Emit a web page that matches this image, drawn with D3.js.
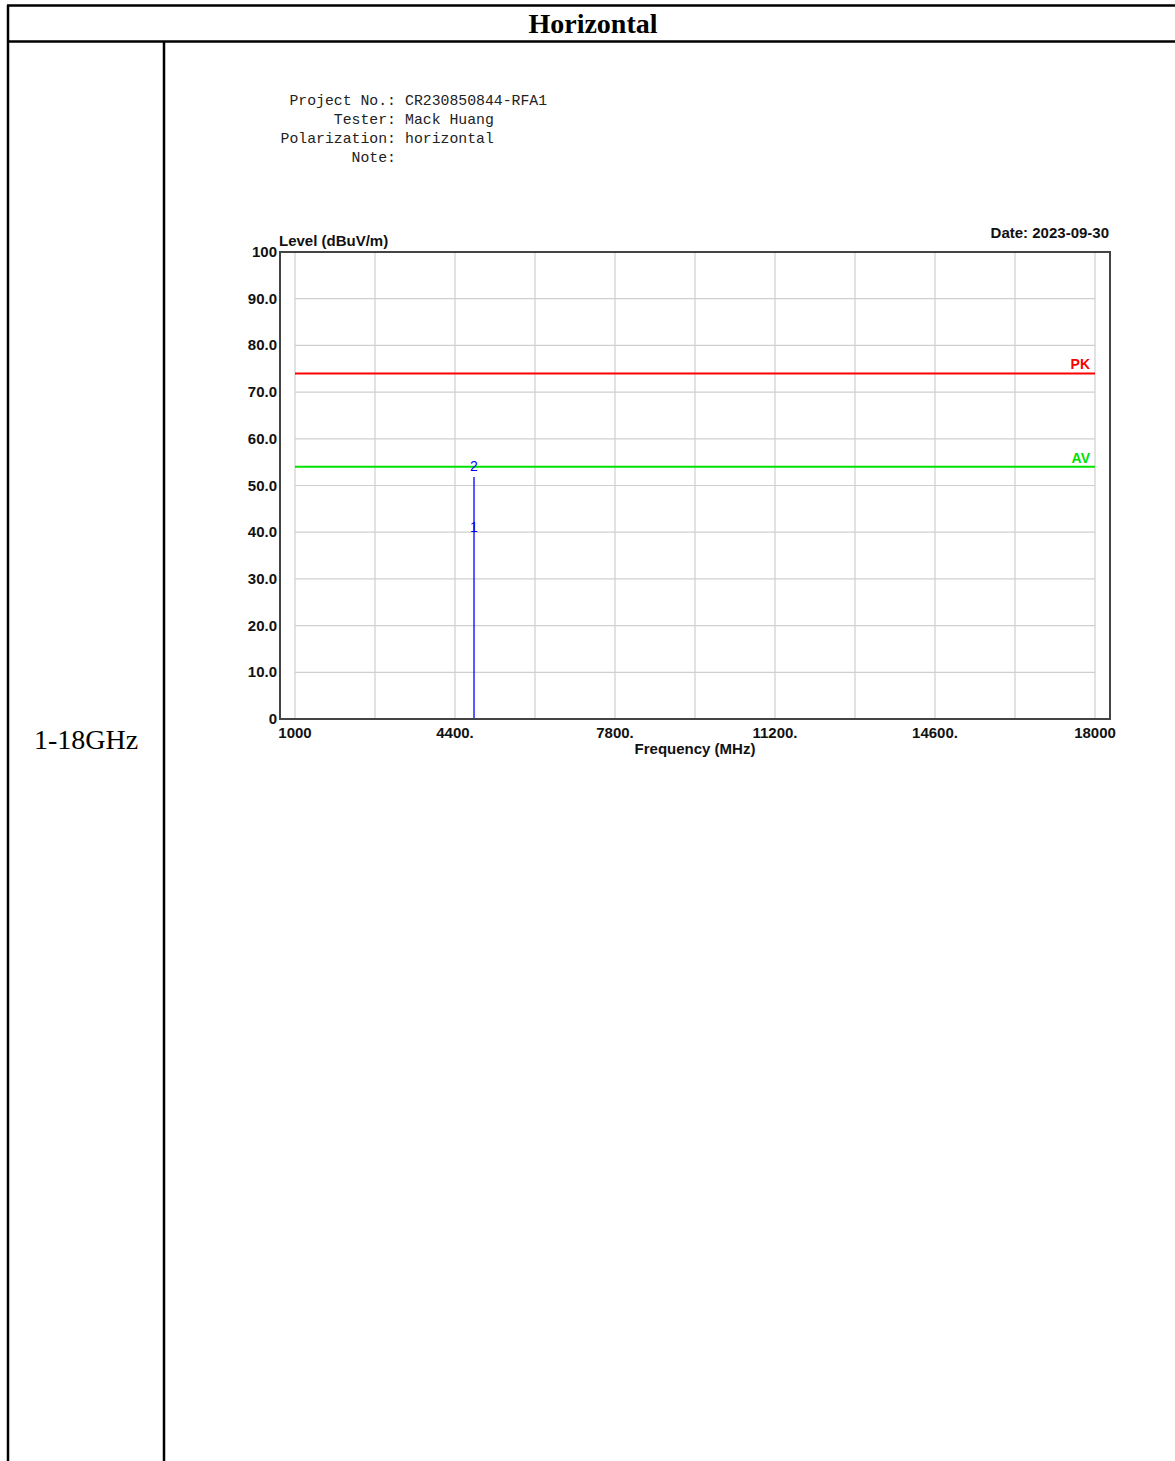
<!DOCTYPE html>
<html>
<head>
<meta charset="utf-8">
<script src="https://cdn.jsdelivr.net/npm/d3@7"></script>
<style>
  body { margin: 0; background: #fff; }
  svg { display: block; }
</style>
</head>
<body>
<div id="chart"></div>
<script>
// chart values
var infoLabels = ['Project No.:', 'Tester:', 'Polarization:', 'Note:'];
var infoValues = ['CR230850844-RFA1', 'Mack Huang', 'horizontal', ''];
var yTicks = [0, 10, 20, 30, 40, 50, 60, 70, 80, 90, 100];
var yTickLabels = ['0', '10.0', '20.0', '30.0', '40.0', '50.0', '60.0', '70.0', '80.0', '90.0', '100'];
var xGrid = [1000, 2700, 4400, 6100, 7800, 9500, 11200, 12900, 14600, 16300, 18000];
var xTicks = [1000, 4400, 7800, 11200, 14600, 18000];
var xTickLabels = ['1000', '4400.', '7800.', '11200.', '14600.', '18000'];
var limitNames = ['PK', 'AV'];
var limitValues = [74, 54];
var limitColors = ['#ff0000', '#00e000'];
var traceFreq = [4804, 4804];
var traceLevel = [0, 51.8];
var markerNames = ['1', '2'];
var markerFreq = [4804, 4804];
var markerLevel = [41.1, 51.8];

window.onload = function() {
    drawChart();
}

function drawChart() {
    var width = 1175, height = 1461;
    var svg = d3.select('#chart').append('svg')
        .attr('width', width)
        .attr('height', height);

    // report table lines
    var tbl = svg.append('g').attr('stroke', '#000').attr('stroke-width', 2.5);
    tbl.append('line').attr('x1', 7).attr('x2', width).attr('y1', 5.5).attr('y2', 5.5);
    tbl.append('line').attr('x1', 7).attr('x2', width).attr('y1', 41.5).attr('y2', 41.5);
    tbl.append('line').attr('x1', 8).attr('x2', 8).attr('y1', 5).attr('y2', height);
    tbl.append('line').attr('x1', 164).attr('x2', 164).attr('y1', 41).attr('y2', height);

    svg.append('text')
        .attr('x', 593).attr('y', 33)
        .attr('text-anchor', 'middle')
        .style('font-family', '"Liberation Serif", "Times New Roman", serif')
        .style('font-weight', 'bold')
        .style('font-size', '28px')
        .text('Horizontal');

    svg.append('text')
        .attr('x', 86).attr('y', 749)
        .attr('text-anchor', 'middle')
        .style('font-family', '"Liberation Serif", "Times New Roman", serif')
        .style('font-size', '28px')
        .text('1-18GHz');

    // info block
    var info = svg.append('g')
        .style('font-family', '"Liberation Mono", "DejaVu Sans Mono", monospace')
        .style('font-size', '14.8px')
        .attr('fill', '#222');
    infoLabels.forEach(function(d, i) {
        info.append('text').attr('x', 396).attr('y', 105 + i * 19)
            .attr('text-anchor', 'end').text(d);
        info.append('text').attr('x', 405).attr('y', 105 + i * 19)
            .text(infoValues[i]);
    });

    // plot
    var x = d3.scaleLinear().domain([1000, 18000]).range([295, 1095]);
    var y = d3.scaleLinear().domain([0, 100]).range([719, 252]);
    var left = 280, right = 1110, top = 252, bottom = 719;
    var font = '"Liberation Sans", Arial, sans-serif';

    var plot = svg.append('g');

    plot.selectAll('.vgrid').data(xGrid).enter().append('line')
        .attr('class', 'vgrid')
        .attr('x1', function(d) { return x(d); })
        .attr('x2', function(d) { return x(d); })
        .attr('y1', top).attr('y2', bottom)
        .attr('stroke', '#cfcfcf').attr('stroke-width', 1.2);

    plot.selectAll('.hgrid').data(yTicks.slice(1, -1)).enter().append('line')
        .attr('class', 'hgrid')
        .attr('x1', x(1000)).attr('x2', x(18000))
        .attr('y1', function(d) { return y(d); })
        .attr('y2', function(d) { return y(d); })
        .attr('stroke', '#cfcfcf').attr('stroke-width', 1.2);

    // limit lines
    limitValues.forEach(function(v, i) {
        plot.append('line')
            .attr('x1', x(1000)).attr('x2', x(18000))
            .attr('y1', y(v)).attr('y2', y(v))
            .attr('stroke', limitColors[i]).attr('stroke-width', 2);
        plot.append('text')
            .attr('x', x(18000) - 5).attr('y', y(v) - 4)
            .attr('text-anchor', 'end')
            .attr('fill', limitColors[i])
            .style('font-family', font)
            .style('font-weight', 'bold')
            .style('font-size', '14px')
            .text(limitNames[i]);
    });

    // trace
    var line = d3.line()
        .x(function(d) { return x(d[0]); })
        .y(function(d) { return y(d[1]); });
    plot.append('path')
        .datum(d3.zip(traceFreq, traceLevel))
        .attr('d', line)
        .attr('fill', 'none')
        .attr('stroke', '#0000ff')
        .attr('stroke-width', 1.3);

    markerNames.forEach(function(m, i) {
        plot.append('text')
            .attr('x', x(markerFreq[i])).attr('y', y(markerLevel[i]) + (i == 1 ? -6 : 5))
            .attr('text-anchor', 'middle')
            .attr('fill', '#0000ff')
            .style('font-family', font)
            .style('font-size', '14px')
            .text(m);
    });

    // frame
    plot.append('rect')
        .attr('x', left).attr('y', top)
        .attr('width', right - left).attr('height', bottom - top)
        .attr('fill', 'none')
        .attr('stroke', '#444').attr('stroke-width', 2);

    // axis labels
    var lab = svg.append('g')
        .style('font-family', font)
        .style('font-weight', 'bold')
        .style('font-size', '15px')
        .attr('fill', '#111');

    yTicks.forEach(function(d, i) {
        lab.append('text')
            .attr('x', 277).attr('y', y(d) + 5)
            .attr('text-anchor', 'end')
            .text(yTickLabels[i]);
    });
    xTicks.forEach(function(d, i) {
        lab.append('text')
            .attr('x', x(d) + (xTickLabels[i].slice(-1) == '.' ? 0 : 0)).attr('y', 738)
            .attr('text-anchor', 'middle')
            .text(xTickLabels[i]);
    });

    lab.append('text').attr('x', 279).attr('y', 246).text('Level (dBuV/m)');
    lab.append('text').attr('x', 1109).attr('y', 238)
        .attr('text-anchor', 'end').text('Date: 2023-09-30');
    lab.append('text').attr('x', 695).attr('y', 754)
        .attr('text-anchor', 'middle').text('Frequency (MHz)');
}
</script>
</body>
</html>
